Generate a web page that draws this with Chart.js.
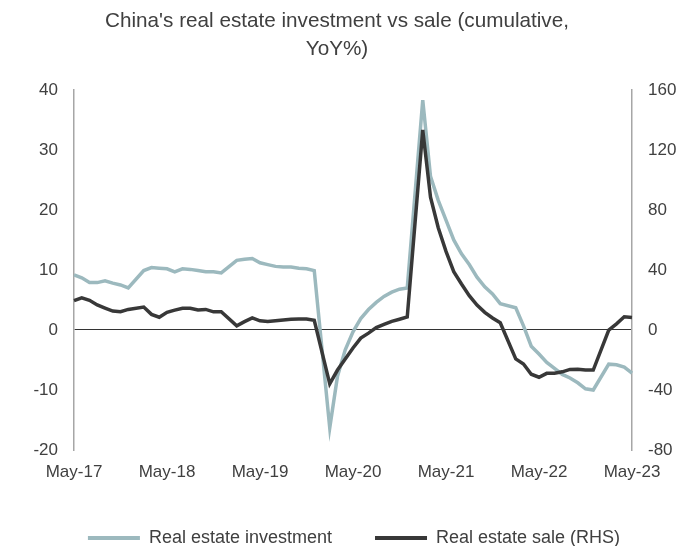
<!DOCTYPE html>
<html>
<head>
<meta charset="utf-8">
<title>China real estate investment vs sale</title>
<script src="https://cdn.jsdelivr.net/npm/chart.js@4.4.1/dist/chart.umd.min.js"></script>
<style>
  html, body { margin: 0; padding: 0; background: #fff; }
  #wrap { width: 690px; height: 546px; }
</style>
</head>
<body>
<div id="wrap"><canvas id="chart"></canvas></div>
<script>
// Monthly, May-17 .. May-23. January is never published on its own
// (Jan-Feb comes out as one figure), so those slots stay null.
const monthNames = ['Jan', 'Feb', 'Mar', 'Apr', 'May', 'Jun', 'Jul', 'Aug', 'Sep', 'Oct', 'Nov', 'Dec'];
const labels = [];
for (let y = 2017; y <= 2023; y++) {
  for (let m = 0; m < 12; m++) {
    if (y === 2017 && m < 4) continue;
    if (y === 2023 && m > 4) break;
    labels.push(monthNames[m] + '-' + String(y).slice(2));
  }
}

// Real estate investment, cumulative YoY %
const investment = [
  9.2, 8.7, 7.9, 7.9, 8.2, 7.8, 7.5, 7.0,                          // 2017 May-Dec
  null, 9.9, 10.4, 10.3, 10.2, 9.7, 10.2, 10.1, 9.9, 9.7, 9.7, 9.5,  // 2018
  null, 11.6, 11.8, 11.9, 11.2, 10.9, 10.6, 10.5, 10.5, 10.3, 10.2, 9.9, // 2019
  null, -16.3, -7.7, -3.3, -0.3, 1.9, 3.4, 4.6, 5.6, 6.3, 6.8, 7.0,  // 2020
  null, 38.3, 25.6, 21.6, 18.3, 15.0, 12.7, 10.9, 8.8, 7.2, 6.0, 4.4, // 2021
  null, 3.7, 0.7, -2.7, -4.0, -5.4, -6.4, -7.4, -8.0, -8.8, -9.8, -10.0, // 2022
  null, -5.7, -5.8, -6.2, -7.2                                       // 2023 Jan-May
];

// Real estate sales, cumulative YoY % (right axis)
const sale = [
  19.6, 21.5, 19.8, 16.7, 14.6, 12.6, 12.2, 13.7,
  null, 15.3, 10.4, 8.5, 11.8, 13.2, 14.5, 14.5, 13.3, 13.7, 12.1, 12.2,
  null, 2.8, 5.6, 8.1, 6.1, 5.6, 6.2, 6.7, 7.1, 7.3, 7.3, 6.5,
  null, -35.9, -26.7, -19.3, -12.0, -5.4, -2.1, 1.6, 3.7, 5.8, 7.2, 8.7,
  null, 133.4, 88.5, 68.2, 52.4, 38.9, 30.7, 22.9, 16.6, 11.8, 8.0, 4.8,
  null, -19.3, -22.7, -29.5, -31.5, -28.9, -28.8, -27.9, -26.3, -26.1, -26.6, -26.7,
  null, -0.1, 4.1, 8.8, 8.4
];

const leftTicks = { min: -20, max: 40, step: 10 };
const rightTicks = { min: -80, max: 160, step: 40 };

const INV_COLOR = '#9cb9be';
const SALE_COLOR = '#383838';
const TEXT = '#404040';
const AXIS = '#a6a6a6';
const FONT = "'Liberation Sans', Arial, sans-serif";

const tickFont = { family: FONT, size: 17 };

// Title sits a little left of the canvas centre, the legend a little right
// (it follows the plot area); nudge both boxes after layout.
const boxNudge = {
  id: 'boxNudge',
  afterLayout(chart) {
    const shift = (box, dx) => {
      if (!box) return;
      box.left += dx;
      box.right += dx;
    };
    shift(chart.titleBlock, -8);
    shift(chart.legend, 9);
  }
};

new Chart(document.getElementById('chart'), {
  type: 'line',
  data: {
    labels: labels,
    datasets: [
      {
        label: 'Real estate investment',
        data: investment,
        yAxisID: 'y',
        borderColor: INV_COLOR,
        backgroundColor: INV_COLOR,
        borderWidth: 3.5,
        pointRadius: 0,
        spanGaps: true,
        tension: 0,
        order: 1
      },
      {
        label: 'Real estate sale (RHS)',
        data: sale,
        yAxisID: 'y1',
        borderColor: SALE_COLOR,
        backgroundColor: SALE_COLOR,
        borderWidth: 3.5,
        pointRadius: 0,
        spanGaps: true,
        tension: 0,
        order: 0
      }
    ]
  },
  plugins: [boxNudge],
  options: {
    responsive: true,
    maintainAspectRatio: false,
    animation: false,
    layout: { padding: 0 },
    plugins: {
      title: {
        display: true,
        text: ["China's real estate investment vs sale (cumulative,", 'YoY%)'],
        color: TEXT,
        font: { family: FONT, size: 20.7, weight: 'normal', lineHeight: 1.33 },
        padding: { top: 8, bottom: 26.9 }
      },
      legend: {
        position: 'bottom',
        maxHeight: 60,
        labels: {
          boxWidth: 52,
          boxHeight: 4,
          padding: 43,
          color: TEXT,
          font: { family: FONT, size: 18 },
          sort: (a, b) => a.datasetIndex - b.datasetIndex,
          generateLabels: (chart) =>
            Chart.defaults.plugins.legend.labels.generateLabels(chart).map(item => {
              item.lineWidth = 0;
              return item;
            })
        }
      },
      tooltip: { enabled: false }
    },
    scales: {
      x: {
        ticks: {
          autoSkip: false,
          maxRotation: 0,
          padding: 12,
          color: TEXT,
          font: tickFont,
          callback: (v, i) => (i % 12 === 0 ? labels[i] : null)
        },
        grid: { display: false, drawTicks: false },
        border: { display: false },
        afterFit: (s) => { s.height = 36; }
      },
      y: {
        position: 'left',
        min: leftTicks.min,
        max: leftTicks.max,
        ticks: { stepSize: leftTicks.step, padding: 16, color: TEXT, font: tickFont },
        grid: {
          drawTicks: false,
          lineWidth: 1,
          color: (ctx) => (ctx.tick && ctx.tick.value === 0 ? '#333333' : 'rgba(0,0,0,0)')
        },
        border: { color: AXIS, width: 1.5 },
        afterFit: (s) => { s.width = 74; }
      },
      y1: {
        position: 'right',
        min: rightTicks.min,
        max: rightTicks.max,
        ticks: { stepSize: rightTicks.step, padding: 16, color: TEXT, font: tickFont },
        grid: { display: false, drawTicks: false },
        border: { color: AXIS, width: 1.5 },
        afterFit: (s) => { s.width = 58; }
      }
    }
  }
});
</script>
</body>
</html>
